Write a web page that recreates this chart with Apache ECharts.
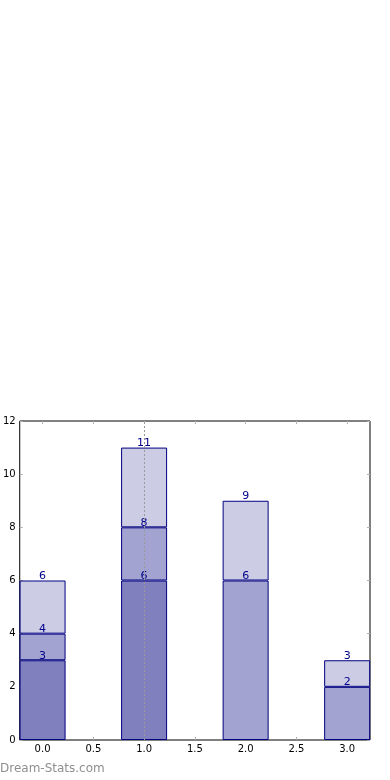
<!DOCTYPE html>
<html><head><meta charset="utf-8">
<script src="https://cdn.jsdelivr.net/npm/echarts@6/dist/echarts.min.js"></script>
<style>html,body{margin:0;padding:0;background:#fff}#c{width:390px;height:780px}</style>
</head><body><div id="c"></div>
<script>
const xPositions = [0, 1, 2, 3];
const layerBottom = [3, 6, null, null];
const layerMiddle = [1, 2, 6, 2];
const layerTop = [2, 3, 3, 1];
const xTickValues = [0, 0.5, 1, 1.5, 2, 2.5, 3];
const highlightX = 1;

const layers = [layerBottom, layerMiddle, layerTop];
const colors = ['#8080bf', '#a3a3d1', '#ccccE5'];
const cumulative = [];
let run = xPositions.map(() => 0);
layers.forEach(l => {
  run = run.map((s, i) => s + (l[i] == null ? 0 : l[i]));
  cumulative.push(run.slice());
});

const font = 'DejaVu Sans';
const tickStyle = {show: true, inside: true, length: 3, lineStyle: {color: '#b0b0b0', width: 1}};
const noLine = {show: false, onZero: false};

const series = layers.map((l, k) => ({
  type: 'bar',
  stack: 'total',
  xAxisIndex: 0, yAxisIndex: 0,
  barWidth: 46,
  dimensions: ['value', 'pos'],
  encode: {x: 1, y: 0},
  data: xPositions.map((x, i) => [l[i] == null ? '-' : l[i], x]),
  itemStyle: {color: colors[k], borderColor: '#000080', borderWidth: 1},
  label: {
    show: true, position: 'top', distance: -1,
    fontFamily: font, fontSize: 11, color: '#00008b',
    formatter: p => String(cumulative[k][p.dataIndex])
  },
  emphasis: {disabled: true},
  animation: false
}));
series[2].markLine = {
  silent: true, symbol: 'none', animation: false, z: 10,
  label: {show: false},
  lineStyle: {type: [2, 2], color: '#999', width: 1},
  data: [{xAxis: highlightX}]
};

const chart = echarts.init(document.getElementById('c'), null, {renderer: 'canvas'});
chart.setOption({
  animation: false,
  grid: {left: 19, top: 421, width: 351, height: 319, show: true, borderColor: '#000', borderWidth: 1, backgroundColor: 'transparent'},
  xAxis: [
    {type: 'value', min: -0.225, max: 3.225, position: 'bottom',
     axisLine: noLine, splitLine: {show: false},
     axisTick: Object.assign({customValues: xTickValues}, tickStyle),
     axisLabel: {customValues: xTickValues, formatter: v => Number(v).toFixed(1), fontFamily: font, fontSize: 10, color: '#000', margin: 4}},
    {type: 'value', min: -0.225, max: 3.225, position: 'top',
     axisLine: noLine, splitLine: {show: false},
     axisTick: Object.assign({customValues: xTickValues}, tickStyle),
     axisLabel: {show: false}}
  ],
  yAxis: [
    {type: 'value', min: 0, max: 12, interval: 2, position: 'left',
     axisLine: noLine, splitLine: {show: false},
     axisTick: tickStyle,
     axisLabel: {fontFamily: font, fontSize: 10, color: '#000', margin: 4}},
    {type: 'value', min: 0, max: 12, interval: 2, position: 'right',
     axisLine: noLine, splitLine: {show: false},
     axisTick: tickStyle, axisLabel: {show: false}}
  ],
  series: series,
  graphic: [{type: 'text', left: 0, top: 763, style: {text: 'Dream-Stats.com', fontFamily: font, fontSize: 12, fontWeight: 'normal', fill: '#8f8f8f'}}]
});
</script></body></html>
